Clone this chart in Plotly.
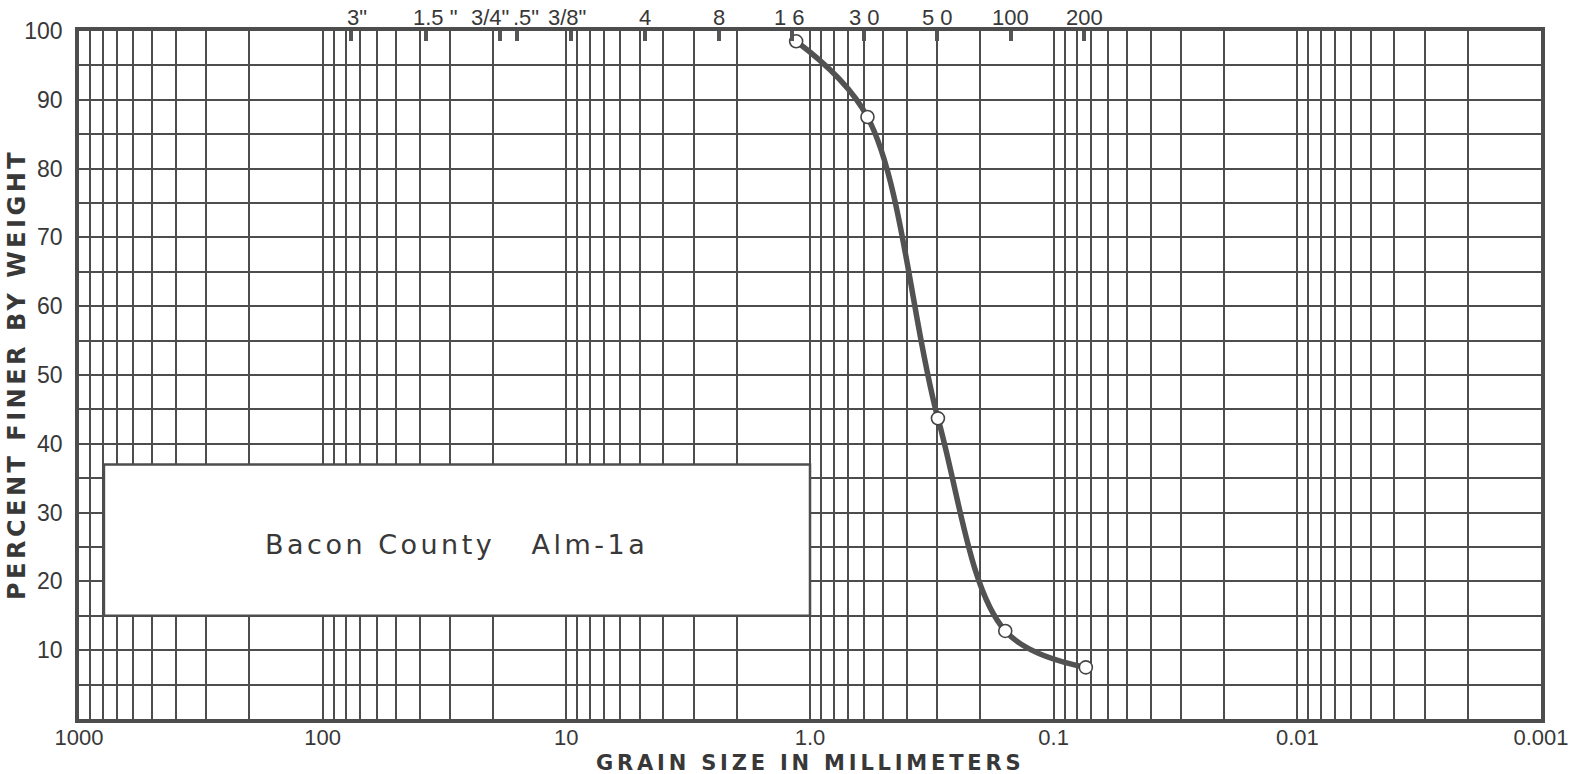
import numpy as np
import plotly.graph_objects as go

# ---- data ----
grain_mm = [1.14, 0.581, 0.2985, 0.158, 0.0738]
pct_finer = [98.5, 87.5, 43.7, 12.8, 7.5]

decade_vals = [1000, 100, 10, 1, 0.1, 0.01, 0.001]
decade_text = ["1000", "100", "10", "1.0", "0.1", "0.01", "0.001"]
y_major = [10, 20, 30, 40, 50, 60, 70, 80, 90, 100]
y_minor = [5, 15, 25, 35, 45, 55, 65, 75, 85, 95]

sieve_mm = [76.2, 37.5, 18.8, 15.9, 9.525, 4.75, 2.36, 1.18, 0.6, 0.3, 0.15, 0.075]
sieve_text = ['3"', '1.5 "', '3/4"', '.5"', '3/8"', '4', '8', '1 6', '3 0', '5 0', '100', '200']
sieve_label_shift = [6, 9, -10, 9, -4, 0, 0, -3, 0, 0, 0, 0]

sample_label = "Bacon County   Alm-1a"
box_x = [790, 1.0]
box_y = [15, 37]

minor_x = [m * d for d in [100, 10, 1, 0.1, 0.01, 0.001] for m in range(2, 10)]

INK = "#4d4d4d"
TXT = "#383838"
FONT = "Liberation Sans, Arial, sans-serif"
WIDE = "DejaVu Sans, Verdana, sans-serif"


def spaced(t, px):
    return '<span style="letter-spacing:%spx">%s</span>' % (px, t)


fig = go.Figure()
fig.add_trace(go.Scatter(
    x=grain_mm, y=pct_finer, mode="lines+markers",
    line=dict(color="#525252", width=5.5, shape="spline", smoothing=1.0),
    marker=dict(size=13, color="white", line=dict(color="#444444", width=1.6)),
    showlegend=False, hoverinfo="x+y",
))
fig.add_trace(go.Scatter(x=[sieve_mm[0]], y=[None], xaxis="x2", showlegend=False, hoverinfo="skip"))

fig.update_layout(
    width=1579, height=774,
    margin=dict(l=79, r=38, t=31, b=55, autoexpand=False),
    paper_bgcolor="white", plot_bgcolor="white",
    font=dict(family=FONT, color=TXT),
    xaxis=dict(
        type="log", range=[3, -3], automargin=False,
        tickmode="array", tickvals=decade_vals, ticktext=decade_text,
        tickfont=dict(size=22, color=TXT), ticks="", ticklabelstandoff=-4,
        showgrid=True, gridcolor=INK, gridwidth=2.4,
        minor=dict(tickmode="array", tickvals=minor_x, showgrid=True, gridcolor=INK, gridwidth=1.6, ticks=""),
        showline=True, linecolor=INK, linewidth=3.5, mirror=True, zeroline=False,
    ),
    xaxis2=dict(
        type="log", range=[3, -3], overlaying="x", side="top", automargin=False,
        tickmode="array", tickvals=sieve_mm, ticktext=[""] * len(sieve_mm),
        ticks="inside", ticklen=10, tickwidth=3.5, tickcolor="#555555",
        showgrid=False, showline=False, zeroline=False,
    ),
    yaxis=dict(
        range=[0, 100], tickmode="array", tickvals=y_major, automargin=False,
        tickfont=dict(size=23, color=TXT), ticks="", ticklabelstandoff=8,
        showgrid=True, gridcolor=INK, gridwidth=2.2,
        minor=dict(tickmode="array", tickvals=y_minor, showgrid=True, gridcolor=INK, gridwidth=1.8, ticks=""),
        showline=True, linecolor=INK, linewidth=3.5, mirror=True, zeroline=False,
    ),
)

fig.add_shape(type="rect", xref="x", yref="y", x0=box_x[0], x1=box_x[1], y0=box_y[0], y1=box_y[1],
              fillcolor="white", line=dict(color=INK, width=2.5), layer="above")
fig.add_annotation(x=np.log10(np.sqrt(box_x[0] * box_x[1])), y=(box_y[0] + box_y[1]) / 2,
                   xref="x", yref="y", text=spaced(sample_label, 3.5), showarrow=False, yshift=-4,
                   font=dict(size=27, color=TXT, family=WIDE))

for v, t, s in zip(sieve_mm, sieve_text, sieve_label_shift):
    fig.add_annotation(x=np.log10(v), y=1.0, xref="x", yref="paper", yanchor="middle",
                       text=t, showarrow=False, xshift=s, yshift=14,
                       font=dict(size=22, color=TXT))

fig.add_annotation(x=0.5, y=0, xref="paper", yref="paper", yanchor="middle", yshift=-44,
                   text="<b>" + spaced("GRAIN SIZE IN MILLIMETERS", 3.8) + "</b>", showarrow=False,
                   font=dict(size=21, color=TXT, family=WIDE))
fig.add_annotation(x=0, y=0.5, xref="paper", yref="paper", xanchor="center", yanchor="middle",
                   xshift=-62, textangle=-90,
                   text="<b>" + spaced("PERCENT FINER BY WEIGHT", 3.5) + "</b>", showarrow=False,
                   font=dict(size=24, color=TXT, family=WIDE))

fig.write_html("out.html", config={"displayModeBar": False},
               post_script="document.body.style.margin='0px';")
